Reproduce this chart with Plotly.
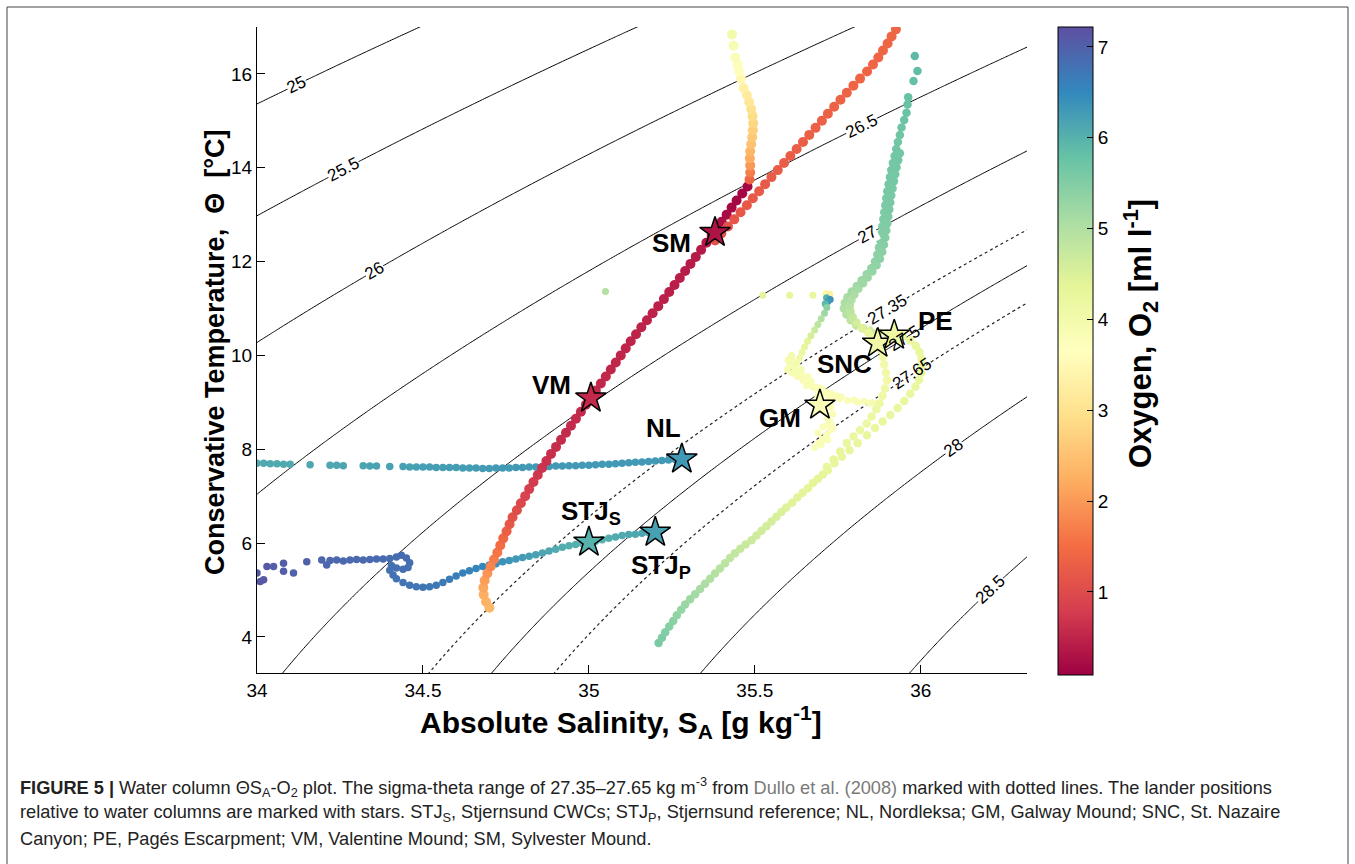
import math
import numpy as np
import plotly.graph_objects as go

# ---------------- data ----------------
# Angola (VM / SM) deep profile incl. upper yellow branch
ang1_ct = [4.62,4.75,4.90,5.05,5.20,5.35,5.50,5.65,5.80,5.95,6.10,6.25,6.40,6.55,6.70,6.85,7.00,7.15,7.30,7.45,
           7.60,7.75,7.90,8.05,8.20,8.35,8.50,8.65,8.80,8.95,9.10,9.25,9.40,9.55,9.70,9.85,10.00,10.15,10.30,10.45,
           10.60,10.75,10.90,11.05,11.20,11.35,11.50,11.65,11.80,11.95,12.10,12.25,12.40,12.55,12.70,12.85,13.00,
           13.15,13.30,13.45,13.60,
           13.75,13.90,14.05,14.20,14.35,14.50,14.65,14.80,14.95,15.10,15.25,15.40,15.55,15.70,15.90,16.06,16.20,
           16.35,16.60,16.84]
ang1_sa = [34.700,34.690,34.683,34.682,34.686,34.694,34.704,34.714,34.724,34.733,34.742,34.752,34.761,34.770,
           34.783,34.795,34.808,34.820,34.833,34.846,34.859,34.872,34.886,34.901,34.916,34.931,34.946,34.961,
           34.976,34.991,35.006,35.021,35.036,35.051,35.066,35.081,35.096,35.111,35.126,35.142,35.158,35.175,
           35.192,35.209,35.226,35.242,35.258,35.274,35.290,35.306,35.322,35.338,35.354,35.370,35.386,35.400,
           35.415,35.430,35.445,35.462,35.478,
           35.484,35.486,35.486,35.485,35.486,35.489,35.492,35.494,35.495,35.493,35.489,35.483,35.476,35.466,
           35.458,35.452,35.448,35.441,35.436,35.431]
ang1_o2 = [2.35,2.30,2.25,2.15,2.05,1.95,1.80,1.70,1.60,1.50,1.40,1.30,1.20,1.10,1.02,0.95,0.88,0.82,0.76,0.72,
           0.68,0.65,0.62,0.60,0.59,0.58,0.57,0.56,0.55,0.55,0.54,0.54,0.53,0.53,0.52,0.52,0.51,0.51,0.50,0.50,
           0.49,0.48,0.47,0.46,0.45,0.44,0.43,0.42,0.41,0.40,0.39,0.38,0.36,0.33,0.30,0.26,0.22,0.19,0.17,0.16,0.18,
           1.40,1.70,2.00,2.20,2.35,2.50,2.60,2.70,2.80,2.90,3.00,3.10,3.20,3.30,3.50,3.60,3.70,3.80,3.90,4.00]

# Angola upper (orange-red) branch
ang2_ct = [12.45,12.60,12.75,12.90,13.05,13.20,13.35,13.50,13.65,13.80,13.95,14.10,14.25,14.40,14.55,14.70,
           14.85,15.00,15.15,15.30,15.45,15.60,15.75,15.90,16.05,16.20,16.35,16.50,16.65,16.80,16.95]
ang2_sa = [35.380,35.399,35.419,35.438,35.457,35.476,35.494,35.513,35.531,35.550,35.569,35.588,35.607,35.626,
           35.645,35.664,35.683,35.702,35.720,35.739,35.758,35.777,35.797,35.817,35.838,35.856,35.872,35.886,
           35.900,35.912,35.925]
ang2_o2 = [1.10,1.12,1.14,1.16,1.18,1.20,1.21,1.22,1.23,1.24,1.25,1.26,1.27,1.28,1.29,1.30,1.31,1.32,1.33,1.34,
           1.35,1.36,1.37,1.38,1.38,1.39,1.39,1.40,1.40,1.40,1.40]

# Nordleksa
nl_sa = [34.00,34.02,34.04,34.06,34.08,34.10,34.16,34.22,34.24,34.26,34.32,34.34,34.36,34.40,34.44,34.46,34.48,
         34.50,34.52,34.54,34.56,34.58,34.60,34.62,34.64,34.66,34.68,34.70,34.72,34.74,34.76,34.78,34.80,34.82,
         34.84,34.86,34.88,34.90,34.92,34.94,34.96,34.98,35.00,35.02,35.04,35.06,35.08,35.10,35.12,35.14,35.16,
         35.18,35.20,35.22,35.24,35.26,35.28]
nl_ct = [7.70,7.70,7.69,7.69,7.68,7.68,7.67,7.66,7.66,7.65,7.65,7.64,7.64,7.63,7.63,7.62,7.62,7.62,7.62,7.61,
         7.61,7.61,7.61,7.60,7.60,7.60,7.59,7.59,7.60,7.60,7.60,7.61,7.61,7.62,7.62,7.63,7.63,7.64,7.64,7.65,
         7.65,7.66,7.66,7.67,7.68,7.68,7.69,7.70,7.71,7.72,7.73,7.74,7.75,7.76,7.77,7.78,7.79]
nl_o2 = [6.10,6.10,6.10,6.10,6.10,6.10,6.12,6.14,6.14,6.15,6.16,6.17,6.18,6.19,6.20,6.21,6.22,6.22,6.23,6.24,
         6.24,6.25,6.25,6.26,6.26,6.27,6.27,6.28,6.28,6.29,6.29,6.30,6.30,6.30,6.30,6.30,6.30,6.30,6.30,6.30,
         6.30,6.30,6.30,6.30,6.30,6.30,6.30,6.30,6.30,6.30,6.30,6.30,6.30,6.30,6.30,6.30,6.30]

# Stjernsund
stj_sa = [34.000,34.010,34.020,34.030,34.050,34.080,34.080,34.110,34.150,34.195,34.210,
          34.22,34.24,34.26,34.28,34.30,34.32,34.34,34.36,34.38,34.40,34.42,34.435,
          34.450,34.460,34.455,34.440,34.420,34.405,34.400,34.410,34.420,34.440,34.46,
          34.48,34.50,34.52,34.54,34.56,34.58,34.60,34.62,34.64,34.66,34.68,34.70,34.72,34.74,34.76,34.78,
          34.80,34.82,34.84,34.86,34.88,34.90,34.92,34.94,34.96,34.98,35.00,35.02,35.04,35.06,35.08,35.10,
          35.12,35.14,35.16,35.18,35.20]
stj_ct = [5.36,5.18,5.22,5.50,5.50,5.57,5.40,5.36,5.60,5.64,5.53,
          5.63,5.64,5.62,5.64,5.65,5.64,5.65,5.66,5.66,5.67,5.70,5.74,
          5.68,5.58,5.48,5.44,5.47,5.52,5.42,5.32,5.24,5.16,5.10,
          5.07,5.06,5.07,5.10,5.16,5.23,5.30,5.36,5.41,5.46,5.50,5.53,5.56,5.60,5.63,5.66,
          5.69,5.72,5.75,5.79,5.83,5.87,5.91,5.94,5.97,5.99,6.01,6.04,6.07,6.10,6.13,6.16,
          6.18,6.19,6.21,6.22,6.23]
stj_o2 = [7.10,7.10,7.10,7.10,7.05,7.05,7.05,7.00,7.00,6.95,6.95,
          6.92,6.92,6.91,6.90,6.90,6.89,6.88,6.88,6.87,6.86,6.85,6.85,
          6.84,6.83,6.82,6.82,6.81,6.80,6.80,6.79,6.78,6.77,6.76,
          6.75,6.74,6.72,6.70,6.68,6.66,6.64,6.61,6.58,6.55,6.51,6.47,6.43,6.39,6.35,6.31,
          6.27,6.23,6.19,6.15,6.12,6.09,6.06,6.04,6.02,6.00,6.00,6.01,6.03,6.05,6.07,6.09,
          6.11,6.13,6.14,6.15,6.16]

# Pagés Escarpment (long deep line, loop and upper band)
pe_sa = [35.210,35.220,35.230,35.242,35.254,35.265,35.278,35.290,35.305,35.320,35.335,35.350,35.365,35.380,
         35.395,35.410,35.425,35.440,35.456,35.472,35.490,35.505,35.520,35.535,35.550,35.565,35.580,35.595,
         35.612,35.628,35.644,35.660,35.675,35.690,35.705,35.720,
         35.740,35.762,35.785,35.810,35.838,35.862,35.885,35.908,35.930,35.950,35.968,35.984,35.995,36.001,
         36.003,36.002,35.996,35.985,35.968,35.945,
         35.920,35.897,35.873,35.850,35.826,35.805,35.789,35.776,35.768,35.771,35.779,35.792,35.807,35.822,
         35.837,35.851,35.862,35.869,35.874,35.878,35.881,35.884,35.887,35.890,35.893,35.896,35.899,35.903,
         35.907,35.911,35.916,35.921,35.926,35.931,35.937,
         35.942,35.950,35.957,35.960,35.962,35.978,35.990,35.982]
pe_ct = [3.87,3.98,4.10,4.22,4.34,4.46,4.58,4.69,4.80,4.91,5.02,5.13,5.24,5.35,5.46,5.57,5.68,5.78,5.88,5.97,
         6.06,6.16,6.26,6.36,6.46,6.56,6.66,6.76,6.86,6.97,7.07,7.17,7.28,7.37,7.46,7.55,
         7.70,7.84,7.98,8.13,8.30,8.45,8.59,8.73,8.88,9.03,9.18,9.33,9.48,9.63,9.78,9.93,10.07,10.20,10.32,10.40,
         10.45,10.47,10.49,10.53,10.58,10.65,10.75,10.87,11.00,11.12,11.24,11.36,11.48,11.60,11.73,11.86,12.00,
         12.15,12.30,12.45,12.60,12.75,12.90,13.05,13.20,13.35,13.50,13.65,13.80,13.95,14.10,14.25,14.40,14.55,
         14.70,
         14.86,15.02,15.17,15.35,15.50,15.85,16.06,16.38]
pe_o2 = [5.60,5.55,5.50,5.45,5.40,5.35,5.30,5.25,5.20,5.15,5.10,5.05,5.00,4.96,4.92,4.88,4.84,4.80,4.76,4.72,
         4.68,4.65,4.62,4.59,4.56,4.53,4.50,4.47,4.44,4.42,4.40,4.38,4.36,4.34,4.32,4.30,
         4.28,4.27,4.26,4.26,4.25,4.25,4.25,4.25,4.25,4.25,4.25,4.25,4.25,4.25,4.25,4.25,4.25,4.25,4.25,4.25,
         4.30,4.40,4.50,4.60,4.70,4.80,4.88,4.95,5.00,5.05,5.10,5.15,5.20,5.25,5.30,5.34,5.38,5.41,5.44,5.47,
         5.50,5.52,5.54,5.56,5.58,5.60,5.62,5.63,5.64,5.65,5.66,5.67,5.68,5.69,5.70,
         5.72,5.74,5.76,5.78,5.80,5.82,5.85,5.90]

# St. Nazaire Canyon
snc_sa = [35.717,35.737,35.757,35.777,35.797,35.817,35.837,35.852,35.866,35.876,35.885,35.892,35.898,35.895,
          35.890,35.886,35.880,
          35.860,35.842,35.822,35.806,35.795,35.788,35.786,35.791,35.800,35.812,35.826,35.840,35.854,35.867,
          35.877,35.884,35.889,35.893,35.896,35.899,35.902,35.905,35.908,35.911,35.915,35.919,35.923,35.927,
          35.932,35.937]
snc_ct = [7.62,7.78,7.95,8.13,8.27,8.41,8.55,8.70,8.85,8.98,9.14,9.30,9.47,9.63,9.80,9.96,10.12,
          10.38,10.48,10.58,10.70,10.82,10.94,11.06,11.18,11.30,11.42,11.54,11.66,11.79,11.92,12.06,12.21,
          12.36,12.51,12.66,12.81,12.96,13.11,13.26,13.41,13.56,13.71,13.86,14.01,14.16,14.31]
snc_o2 = [4.30,4.28,4.26,4.24,4.22,4.20,4.18,4.16,4.14,4.12,4.10,4.08,4.06,4.05,4.04,4.03,4.02,
          4.10,4.25,4.45,4.60,4.75,4.85,4.95,5.02,5.08,5.14,5.20,5.25,5.30,5.35,5.40,5.43,5.46,5.49,5.52,
          5.54,5.56,5.58,5.60,5.61,5.62,5.63,5.64,5.65,5.66,5.67]

# Galway Mound
gm_sa = [35.050,35.524,35.605,35.675,
         35.713,35.726,35.716,35.727,35.720,35.712,
         35.717,35.710,35.700,35.690,35.680,35.669,35.659,35.650,35.642,35.635,35.627,35.620,
         35.605,35.598,35.612,35.628,35.645,35.660,35.676,35.690,35.705,35.720,35.736,35.755,35.780,35.810,
         35.845,35.700,35.712,35.718,35.722,35.726,35.716,35.705,35.692,35.680,35.640,35.615,
         35.600,35.610,35.620,35.655,35.670,35.685,35.700,35.715,35.730,35.745,35.760,35.725,35.730,35.735,
         35.728,35.735,35.720,35.700,35.690,35.705,35.690,35.660,35.640,35.800,35.830,35.855]
gm_ct = [11.36,11.28,11.28,11.28,
         11.32,11.31,11.23,11.19,11.15,11.10,
         11.02,10.90,10.78,10.66,10.54,10.42,10.30,10.18,10.06,9.95,9.84,9.74,
         9.80,9.70,9.62,9.55,9.47,9.40,9.32,9.26,9.20,9.14,9.10,9.07,9.04,9.00,
         8.98,9.05,8.80,8.66,8.52,8.40,8.30,8.22,8.13,8.03,9.60,9.88,
         9.90,10.00,9.68,9.36,9.45,9.32,9.30,9.22,9.18,9.14,9.12,9.02,8.90,8.75,
         8.58,8.45,8.20,8.10,8.35,8.48,9.12,9.55,9.70,9.05,9.02,8.99]
gm_o2 = [5.00,4.40,4.35,4.30,
         3.50,3.30,6.00,6.40,6.30,5.90,
         5.40,5.20,5.00,4.85,4.70,4.55,4.40,4.30,4.20,4.10,4.00,3.95,
         3.90,3.90,3.90,3.85,3.85,3.85,3.85,3.80,3.80,3.80,3.80,3.80,3.85,3.85,
         3.90,3.80,3.80,3.80,3.80,3.80,3.80,3.80,3.80,3.80,3.90,3.95,
         3.95,4.00,3.90,3.85,3.85,3.85,3.80,3.80,3.80,3.80,3.85,3.80,3.80,3.80,
         3.80,3.80,3.80,3.80,3.80,3.80,3.80,3.85,3.90,3.85,3.85,3.90]

# Lander positions (stars)
star_names = ["SM", "VM", "NL", "STJs", "STJp", "GM", "SNC", "PE"]
star_sa = [35.380, 35.006, 35.280, 35.000, 35.200, 35.696, 35.870, 35.920]
star_ct = [12.62, 9.09, 7.79, 6.02, 6.23, 8.94, 10.26, 10.43]
star_o2 = [0.30, 0.55, 6.30, 6.00, 6.20, 3.85, 4.05, 4.15]

label_text = ["SM", "VM", "NL", "STJ<sub>S</sub>", "STJ<sub>P</sub>", "GM", "SNC", "PE"]
label_sa = [35.250, 34.888, 35.225, 35.005, 35.218, 35.575, 35.770, 36.045]
label_ct = [12.40, 9.36, 8.45, 6.66, 5.49, 8.66, 9.81, 10.74]

# isopycnal levels and where their labels sit (salinity along each line)
solid_levels = (25.0, 28.5, 0.5)
dotted_levels = (27.35, 27.65, 0.3)
clabel_levels = [25.0, 25.5, 26.0, 26.5, 27.0, 27.35, 27.5, 27.65, 28.0, 28.5]
clabel_text = ["25", "25.5", "26", "26.5", "27", "27.35", "27.5", "27.65", "28", "28.5"]
clabel_sa = [34.12, 34.26, 34.355, 35.82, 35.84, 35.90, 35.95, 35.975, 36.10, 36.21]

x_ticks = [34, 34.5, 35, 35.5, 36]
y_ticks = [4, 6, 8, 10, 12, 14, 16]
cb_ticks = [1, 2, 3, 4, 5, 6, 7]

X_RANGE = [34, 36.32]
Y_RANGE = [3.23, 17.0]
ML, MR, MT, MB = 257, 328, 27, 191
W, H = 1355, 864
PW, PH = W - ML - MR, H - MT - MB


def px_to_paper_x(px):
    return (px - ML) / PW


def px_to_paper_y(py):
    return (H - MB - py) / PH


# ---------------- density field (EOS-80 at p = 0) ----------------
def sigma0(SA, CT):
    S = SA * 35.0 / 35.16504
    T = CT
    rw = (999.842594 + 6.793952e-2 * T - 9.095290e-3 * T**2 + 1.001685e-4 * T**3
          - 1.120083e-6 * T**4 + 6.536332e-9 * T**5)
    A = 8.24493e-1 - 4.0899e-3 * T + 7.6438e-5 * T**2 - 8.2467e-7 * T**3 + 5.3875e-9 * T**4
    B = -5.72466e-3 + 1.0227e-4 * T - 1.6546e-6 * T**2
    C = 4.8314e-4
    return rw + A * S + B * S**1.5 + C * S**2 - 1000.0


gs = np.arange(33.9, 36.45, 0.01)
gt = np.arange(3.0, 17.3, 0.05)
GS, GT = np.meshgrid(gs, gt)
Z = sigma0(GS, GT)

FONT = "Liberation Sans, Arial, Helvetica, sans-serif"
fig = go.Figure()

fig.add_trace(go.Contour(
    x=gs, y=gt, z=Z, showscale=False, hoverinfo="skip",
    colorscale=[[0, "black"], [1, "black"]],
    contours=dict(start=solid_levels[0], end=solid_levels[1], size=solid_levels[2],
                  coloring="lines", showlabels=False),
    line=dict(width=1)))
fig.add_trace(go.Contour(
    x=gs, y=gt, z=Z, showscale=False, hoverinfo="skip",
    colorscale=[[0, "#222"], [1, "#222"]],
    contours=dict(start=dotted_levels[0], end=dotted_levels[1], size=dotted_levels[2],
                  coloring="lines", showlabels=False),
    line=dict(width=1.2, dash="dot")))


def profile(sa, ct, o2, size=7):
    return go.Scatter(x=sa, y=ct, mode="markers", hoverinfo="skip",
                      marker=dict(size=size, color=o2, coloraxis="coloraxis", line=dict(width=0)))


fig.add_trace(profile(nl_sa, nl_ct, nl_o2, 7.5))
fig.add_trace(profile(stj_sa, stj_ct, stj_o2, 7.5))
fig.add_trace(profile(gm_sa, gm_ct, gm_o2, 7))
fig.add_trace(profile(pe_sa, pe_ct, pe_o2, 8.5))
fig.add_trace(profile(snc_sa, snc_ct, snc_o2, 8.5))
fig.add_trace(profile(ang1_sa, ang1_ct, ang1_o2, 10))
fig.add_trace(profile(ang2_sa, ang2_ct, ang2_o2, 10))

fig.add_trace(go.Scatter(
    x=star_sa, y=star_ct, mode="markers", text=star_names, hoverinfo="text",
    marker=dict(symbol="star", size=23, color=star_o2, coloraxis="coloraxis",
                line=dict(width=1.5, color="black"))))

# isopycnal labels, positioned on the computed contour and rotated along it
px_per_s = PW / (X_RANGE[1] - X_RANGE[0])
px_per_t = PH / (Y_RANGE[1] - Y_RANGE[0])
tt = np.linspace(2.0, 18.0, 3201)
for lev, txt, s in zip(clabel_levels, clabel_text, clabel_sa):
    sig = sigma0(s, tt)
    t0 = float(np.interp(lev, sig[::-1], tt[::-1]))
    ds, dt = 1e-4, 1e-4
    dsig_ds = (sigma0(s + ds, t0) - sigma0(s - ds, t0)) / (2 * ds)
    dsig_dt = (sigma0(s, t0 + dt) - sigma0(s, t0 - dt)) / (2 * dt)
    slope = -dsig_ds / dsig_dt
    ang = -math.degrees(math.atan(slope * px_per_t / px_per_s))
    crowded = lev in (27.5, 27.65)
    fig.add_annotation(x=s, y=t0, text=txt, showarrow=False, textangle=ang,
                       bgcolor="rgba(255,255,255,0)" if crowded else "white", borderpad=0,
                       font=dict(family=FONT, size=17, color="black"))

for t, xs, ys in zip(label_text, label_sa, label_ct):
    fig.add_annotation(x=xs, y=ys, text="<b>" + t + "</b>", showarrow=False,
                       font=dict(family=FONT, size=26, color="black"))

# axis and colour-bar titles
fig.add_annotation(xref="paper", yref="paper", x=px_to_paper_x(621), y=px_to_paper_y(722),
                   xanchor="center", yanchor="middle", showarrow=False,
                   text="<b>Absolute Salinity, S<sub>A</sub> [g kg<sup>-1</sup>]</b>",
                   font=dict(family=FONT, size=30, color="black"))
fig.add_annotation(xref="paper", yref="paper", x=px_to_paper_x(215), y=px_to_paper_y(353),
                   xanchor="center", yanchor="middle", showarrow=False, textangle=-90,
                   text="<b>Conservative Temperature,  Θ  [°C]</b>",
                   font=dict(family=FONT, size=27, color="black"))
fig.add_annotation(xref="paper", yref="paper", x=px_to_paper_x(1140), y=px_to_paper_y(334),
                   xanchor="center", yanchor="middle", showarrow=False, textangle=-90,
                   text="<b>Oxygen, O<sub>2</sub> [ml l<sup>-1</sup>]</b>",
                   font=dict(family=FONT, size=31, color="black"))

cap_font = dict(family=FONT, size=18.2, color="#222")
captions = [
    "<b>FIGURE 5 |</b> Water column ΘS<sub>A</sub>-O<sub>2</sub> plot. The sigma-theta range of 27.35–27.65 kg m<sup>-3</sup> from "
    "<span style='color:#7a7a7a'>Dullo et al. (2008)</span> marked with dotted lines. The lander positions",
    "relative to water columns are marked with stars. STJ<sub>S</sub>, Stjernsund CWCs; STJ<sub>P</sub>, Stjernsund reference; "
    "NL, Nordleksa; GM, Galway Mound; SNC, St. Nazaire",
    "Canyon; PE, Pagés Escarpment; VM, Valentine Mound; SM, Sylvester Mound.",
]
cap_py = [787, 813, 839]
for c, py in zip(captions, cap_py):
    fig.add_annotation(xref="paper", yref="paper", x=px_to_paper_x(18), y=px_to_paper_y(py),
                       xanchor="left", yanchor="middle",
                       text=c, showarrow=False, font=cap_font, align="left")

# outer frame
fig.add_shape(type="rect", xref="paper", yref="paper",
              x0=px_to_paper_x(7), x1=px_to_paper_x(1348), y0=px_to_paper_y(875), y1=px_to_paper_y(7),
              line=dict(color="#444", width=1), layer="above")

fig.update_layout(
    width=W, height=H,
    margin=dict(l=ML, r=MR, t=MT, b=MB),
    paper_bgcolor="white", plot_bgcolor="white",
    showlegend=False,
    font=dict(family=FONT, color="black"),
    coloraxis=dict(
        colorscale="Spectral", cmin=0.086, cmax=7.22,
        colorbar=dict(
            x=px_to_paper_x(1058), xanchor="left", xpad=0, y=1.0, yanchor="top", ypad=0,
            len=1.003, lenmode="fraction",
            thickness=35, outlinecolor="black", outlinewidth=1,
            tickvals=cb_ticks, ticks="inside", ticklen=6, tickcolor="black",
            tickfont=dict(family=FONT, size=19, color="black"),
        ),
    ),
    xaxis=dict(range=X_RANGE, tickvals=x_ticks, ticktext=[str(v) for v in x_ticks],
               showgrid=False, zeroline=False, showline=True, linecolor="black", linewidth=1,
               ticks="inside", ticklen=8, tickcolor="black",
               tickfont=dict(family=FONT, size=19, color="black")),
    yaxis=dict(range=Y_RANGE, tickvals=y_ticks,
               showgrid=False, zeroline=False, showline=True, linecolor="black", linewidth=1,
               ticks="inside", ticklen=8, tickcolor="black",
               tickfont=dict(family=FONT, size=19, color="black")),
)

fig.write_html("out.html")
